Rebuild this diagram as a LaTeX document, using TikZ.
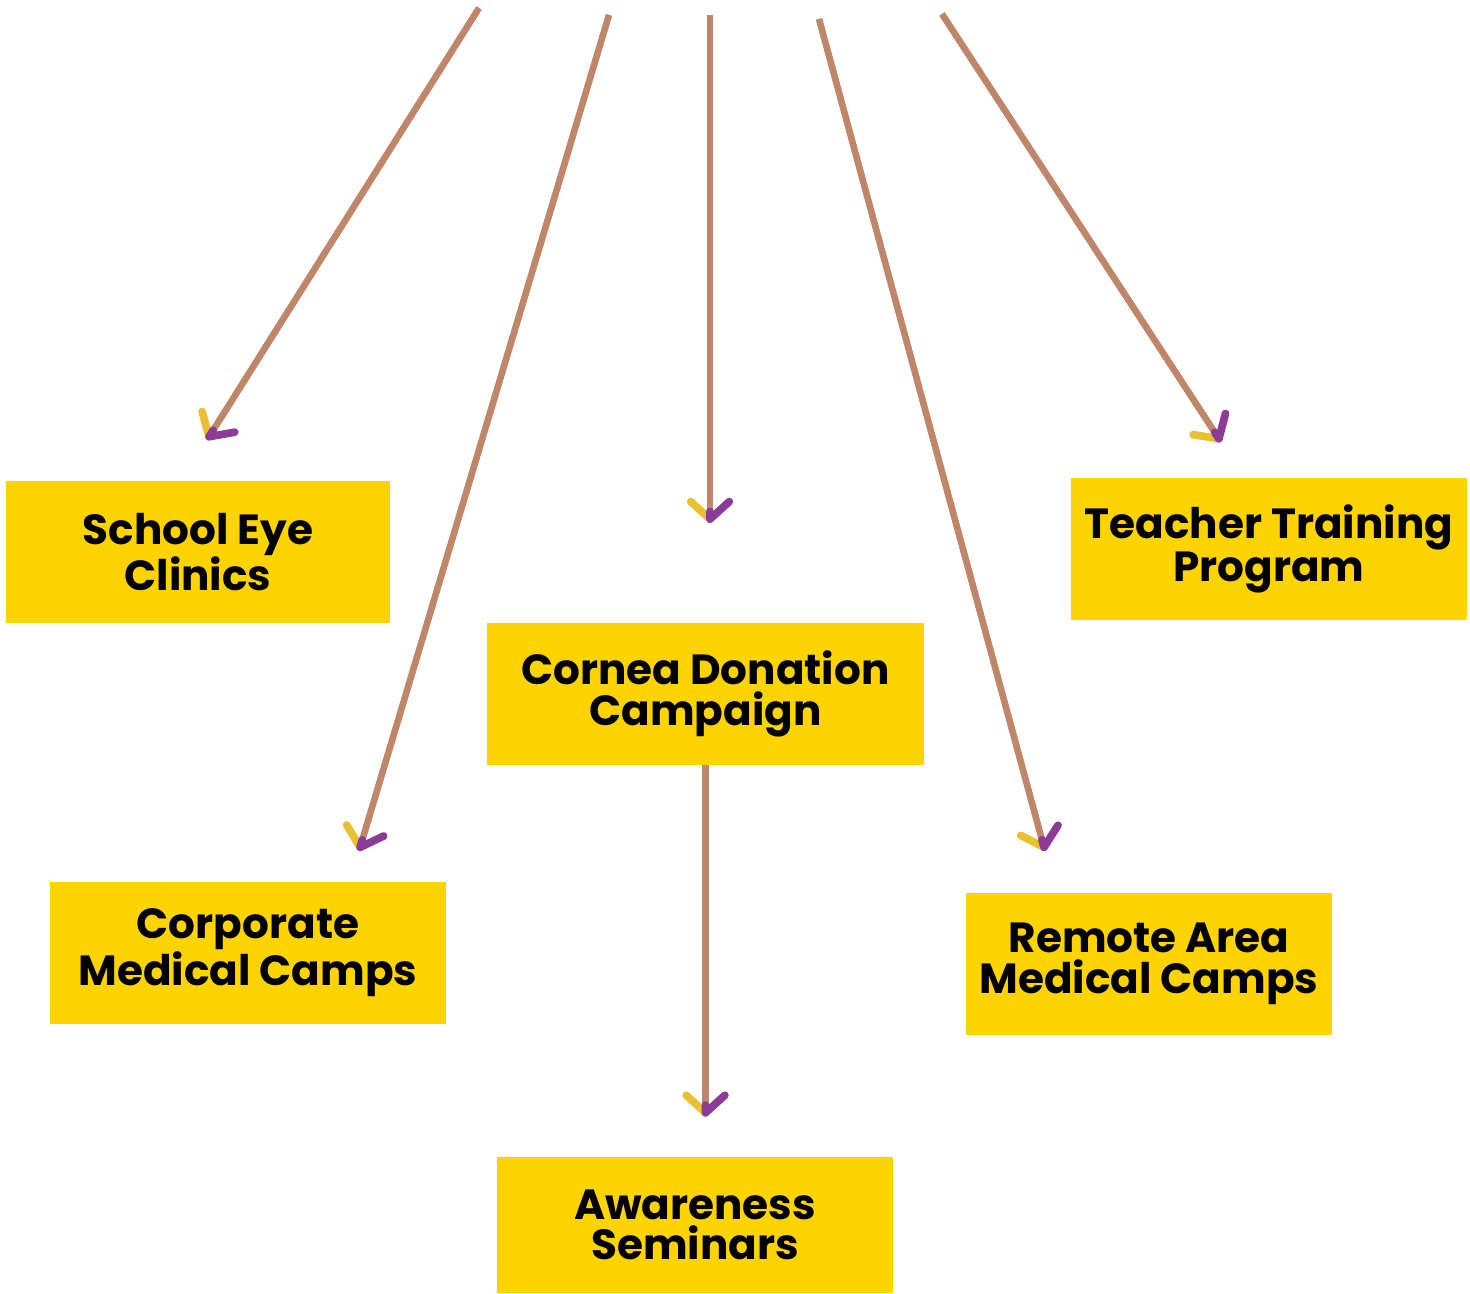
\documentclass[tikz,border=0pt]{standalone}
\usepackage{fontspec}
\setmainfont{Poppins}
\usepackage{xcolor}
\usepackage{tikz}
\usetikzlibrary{arrows.meta}
\definecolor{progyellow}{HTML}{FDD300}
\definecolor{linktan}{HTML}{C0866A}
\definecolor{tipyellow}{HTML}{E8C030}
\definecolor{tippurple}{HTML}{8C3C96}
\tikzset{
    program/.style={
        rectangle, fill=progyellow,
        minimum height=2.84cm, inner sep=0pt,
        align=center, text=black,
        font=\fontsize{24}{23}\selectfont\bfseries
    },
    link/.style={
        line width=3.6pt, draw=linktan,
        -{Straight Barb[right, color=tipyellow, length=10pt, width=22pt, line width=4.4pt, line cap=round, line join=round]},
        postaction={draw=linktan, -{Straight Barb[left, color=tippurple, length=10pt, width=22pt, line width=4.4pt, line cap=round, line join=round]}}
    }
}

\begin{document}
\begin{tikzpicture}[x=0.02cm, y=-0.02cm]
    \useasboundingbox (0,0) rectangle (1470,1294);

    % programs
    \node[program, minimum width=7.68cm] (school) at (198,552) {School Eye\\Clinics};
    \node[program, minimum width=7.92cm] (teacher) at (1269,549) {Teacher Training\\Program};
    \node[program, minimum width=8.74cm] (cornea) at (705.5,694) {Cornea Donation\\Campaign};
    \node[program, minimum width=7.92cm] (corporate) at (248,953) {Corporate\\Medical Camps};
    \node[program, minimum width=7.32cm] (remote) at (1149,964) {Remote Area\\Medical Camps};
    \node[program, minimum width=7.92cm, minimum height=2.72cm] (awareness) at (695,1225) {Awareness\\Seminars};

    % loose ends of the links
    \coordinate (src1) at (479,8);
    \coordinate (src2) at (609,15);
    \coordinate (src3) at (710,15);
    \coordinate (src4) at (819,19);
    \coordinate (src5) at (942,14);
    \coordinate (dst1) at (207,440);
    \coordinate (dst2) at (359,851);
    \coordinate (dst3) at (710,523);
    \coordinate (dst4) at (1045,851);
    \coordinate (dst5) at (1221,442);

    \draw[link] (src1) -- (dst1);
    \draw[link] (src2) -- (dst2);
    \draw[link] (src3) -- (dst3);
    \draw[link] (src4) -- (dst4);
    \draw[link] (src5) -- (dst5);
    \draw[link, shorten >=0.8cm] (cornea.south) -- (cornea.south |- awareness.north);
\end{tikzpicture}
\end{document}
